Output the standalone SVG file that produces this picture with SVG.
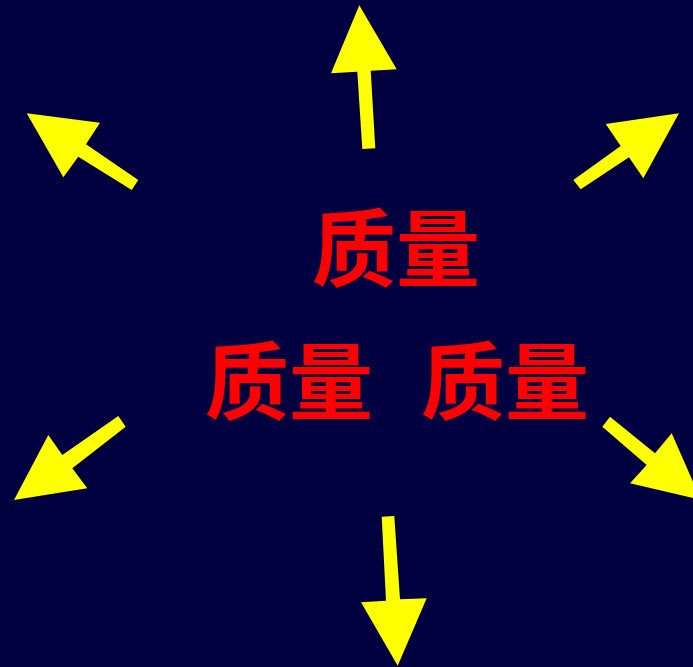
<svg xmlns="http://www.w3.org/2000/svg" width="693" height="667" viewBox="0 0 693 667">
<style>
.arrow{fill:#FFFF00;stroke:none}
.t{font-family:"Noto Sans CJK SC","Noto Sans CJK TC",sans-serif;font-weight:bold;font-size:84px;fill:#FF0000;text-anchor:middle}
</style>
<rect width="693" height="667" fill="#000040"/>
<g id="connectors">
<polygon id="arrow-up" class="arrow" points="362.3,149 375.3,148.3 370.7,70.7 396.7,69.3 359.3,5.3 331,73.3 357.3,71.7"/>
<polygon id="arrow-upleft" class="arrow" points="138.3,180 131.7,190 78.3,156.7 63.3,177.3 26.7,113.3 100,122.7 86,144.3"/>
<polygon id="arrow-upright" class="arrow" points="573.3,180 580.7,189.3 629,157.3 643.3,178.3 679,113.3 605.7,124 620.7,146"/>
<polygon id="arrow-downleft" class="arrow" points="118.3,416 125.7,426.7 72.3,468.3 87.3,488.3 14,500 48.3,435 62.3,455"/>
<polygon id="arrow-downright" class="arrow" points="610,416.7 602.3,426.7 646.7,465 630,483.3 701,500 671.7,433.3 655,453.3"/>
<polygon id="arrow-down" class="arrow" points="381.7,516.7 394.3,516 400,599.3 426.7,598.3 397.7,665.7 361,602.3 386,600.7"/>
</g>
<g id="node-top"><text class="t" x="396" y="280">质量</text></g>
<g id="node-left"><text class="t" x="289" y="413">质量</text></g>
<g id="node-right"><text class="t" x="505" y="413">质量</text></g>
</svg>
